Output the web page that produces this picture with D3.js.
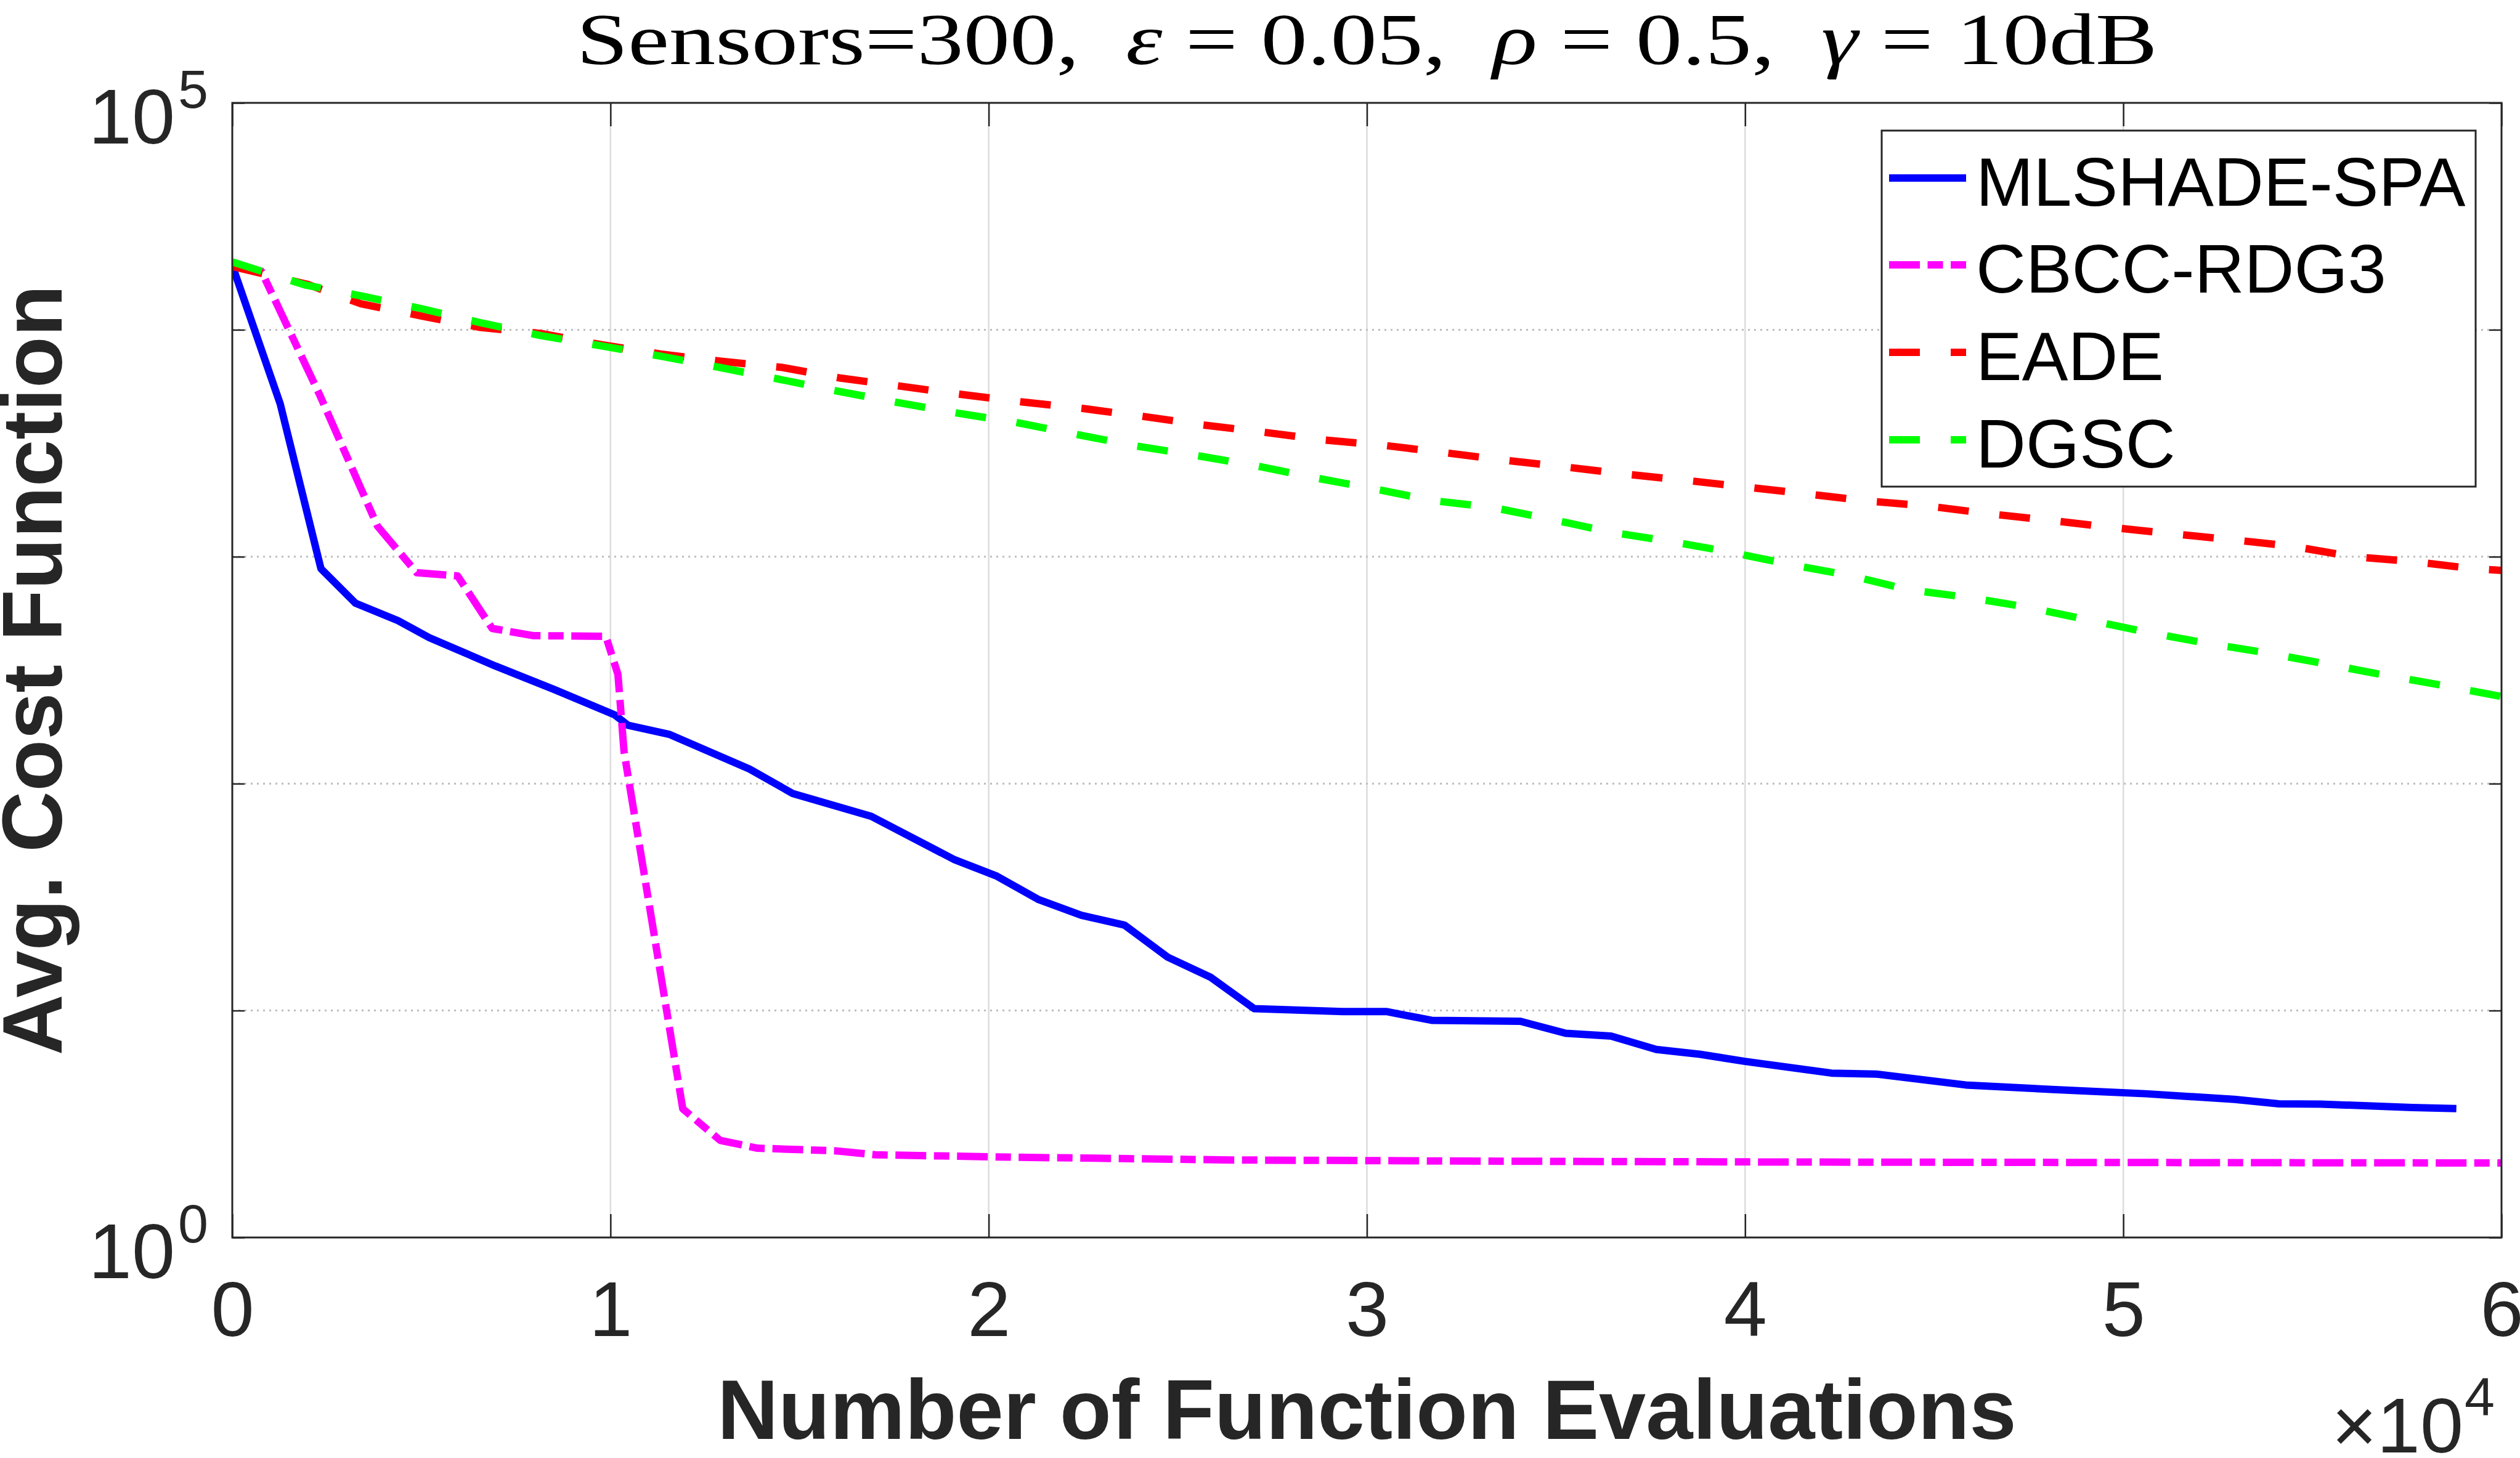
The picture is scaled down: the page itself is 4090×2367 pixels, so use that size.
<!DOCTYPE html>
<html>
<head>
<meta charset="utf-8">
<script src="https://cdn.jsdelivr.net/npm/d3@7"></script>
<style>
body{margin:0;background:#fff;}
svg{display:block;}
</style>
</head>
<body>
<div id="chart-area"></div>
<script>
const width=4090, height=2367;
const plot={left:377, right:4060, top:167, bottom:2009};

// axis ticks
const xTicks=[0,10000,20000,30000,40000,50000,60000];
const yTicks=[1,10,100,1000,10000,100000];
const yLabelTicks=[1,100000];

const seriesNames=["MLSHADE-SPA","CBCC-RDG3","EADE","DGSC"];

// MLSHADE-SPA
const mlshadeEvals=[0,1265,2344,3257,4379,5209,6954,8532,10109,10460,11548,13676,14818,16894,19075,20217,21307,22448,23591,24732,25875,27017,29364,30512,31710,34056,35254,36453,37652,38797,39997,42286,43462,45833,48218,50590,52937,54110,55222,57632,58806];
const mlshadeCost=[19200,4730,886,624,523,440,330,259,201,181,165,116,90.5,71.8,46.4,39.1,30.9,26.3,23.8,17.2,14.0,10.2,9.9,9.9,9.06,8.97,7.94,7.72,6.74,6.42,5.97,5.30,5.25,4.70,4.48,4.30,4.06,3.88,3.87,3.74,3.70];

// CBCC-RDG3
const cbccEvals=[0,767,2303,3840,4877,5958,6871,7950,9878,10197,10358,11911,12898,13884,15959,16998,20529,26426,33000,41000,50000,60000];
const cbccCost=[19200,18150,5200,1363,850,823,483,449,446,303,138.6,3.69,2.68,2.475,2.408,2.314,2.26,2.196,2.17,2.15,2.14,2.13];

// EADE
const eadeEvals=[0,1984,3401,5009,6554,8164,9772,11319,12927,14535,16080,17690,19298,20879,22476,24058,25655,27252,28848,30457,32041,33636,35247,36844,38439,40181,41636,43245,44842,46452,48060,49670,51253,52876,54484,56053,57689,59260,60000];
const eadeCost=[19000,15870,13020,11500,10245,9625,8589,7820,7265,6826,6127,5638,5184,4810,4504,4158,3810,3541,3273,3094,2876,2663,2486,2311,2170,2014,1892,1760,1672,1546,1446,1346,1265,1188,1111,1001,951,885,870];

// DGSC
const dgscEvals=[0,1919,3490,5035,6619,8164,9746,11319,12888,14472,15991,17561,19146,20724,22282,23866,25448,27032,28577,30161,31719,33316,34874,36443,38040,39611,41172,42769,44301,45885,47480,49051,50622,52193,53788,55346,56904,58501,60000];
const dgscCost=[19900,15770,14010,12360,10690,9430,8500,7660,6826,6050,5373,4793,4300,3906,3470,3081,2800,2522,2235,1998,1769,1649,1462,1282,1167,1047,925,827,716,662,599,527,465,416,377,337,301,270,242];

const lineColor=["#0000ff","#ff00ff","#ff0000","#00ff00"];
const lineDash=[null,"50,12.5,25,12.5","50,50","50,50"];
const axisColor="#262626";
const sansFont="'Liberation Sans', Arial, Helvetica, sans-serif";

const svg=d3.select("#chart-area").append("svg")
            .attr("width",width).attr("height",height);
svg.append("rect").attr("width",width).attr("height",height).attr("fill","#fff");

const x=d3.scaleLinear().domain([0,60000]).range([plot.left,plot.right]);
const y=d3.scaleLog().domain([1,1e5]).range([plot.bottom,plot.top]);

// grid
const grid=svg.append("g");
grid.selectAll(".xgrid").data(xTicks.slice(1,-1)).enter().append("line")
    .attr("x1",d=>x(d)).attr("x2",d=>x(d))
    .attr("y1",plot.top).attr("y2",plot.bottom)
    .attr("stroke","#dcdcdc").attr("stroke-width",2.5);
grid.selectAll(".ygrid").data(yTicks.slice(1,-1)).enter().append("line")
    .attr("x1",plot.left).attr("x2",plot.right)
    .attr("y1",d=>y(d)).attr("y2",d=>y(d))
    .attr("stroke","#bdbdbd").attr("stroke-width",3)
    .attr("stroke-dasharray","3,7");

// lines
svg.append("clipPath").attr("id","plotclip").append("rect")
    .attr("x",plot.left).attr("y",plot.top)
    .attr("width",plot.right-plot.left).attr("height",plot.bottom-plot.top);

const series=[
    d3.zip(mlshadeEvals,mlshadeCost),
    d3.zip(cbccEvals,cbccCost),
    d3.zip(eadeEvals,eadeCost),
    d3.zip(dgscEvals,dgscCost)
];
const line=d3.line().x(d=>x(d[0])).y(d=>y(d[1]));

svg.append("g").attr("clip-path","url(#plotclip)")
    .selectAll("path").data(series).enter().append("path")
    .attr("d",line)
    .attr("fill","none")
    .attr("stroke",(d,i)=>lineColor[i])
    .attr("stroke-width",12)
    .attr("stroke-linejoin","round")
    .attr("stroke-dasharray",(d,i)=>lineDash[i]);

// axes
function styleAxis(g){
    g.select(".domain").remove();
    g.attr("color",axisColor).attr("font-family",sansFont).attr("font-size",126);
    g.selectAll(".tick line").attr("stroke-width",2.5);
}
svg.append("g").attr("transform",`translate(0,${plot.bottom})`)
    .call(d3.axisBottom(x).tickValues(xTicks).tickSizeInner(-38).tickSizeOuter(0)
          .tickPadding(71).tickFormat(d=>d/1e4))
    .call(styleAxis);
svg.append("g").attr("transform",`translate(0,${plot.top})`)
    .call(d3.axisTop(x).tickValues(xTicks).tickSizeInner(-38).tickSizeOuter(0).tickFormat(""))
    .call(styleAxis);
svg.append("g").attr("transform",`translate(${plot.left},0)`)
    .call(d3.axisLeft(y).tickValues(yTicks).tickSizeInner(-20).tickSizeOuter(0).tickFormat(""))
    .call(styleAxis);
svg.append("g").attr("transform",`translate(${plot.right},0)`)
    .call(d3.axisRight(y).tickValues(yTicks).tickSizeInner(-20).tickSizeOuter(0).tickFormat(""))
    .call(styleAxis);

svg.append("rect")
    .attr("x",plot.left).attr("y",plot.top)
    .attr("width",plot.right-plot.left).attr("height",plot.bottom-plot.top)
    .attr("fill","none").attr("stroke",axisColor).attr("stroke-width",3);

// y tick labels 10^n
const ylab=svg.append("g").attr("fill",axisColor).attr("font-family",sansFont);
ylab.selectAll(".base").data(yLabelTicks).enter().append("text")
    .attr("x",284).attr("y",d=>y(d)+66)
    .attr("text-anchor","end").attr("font-size",126).text("10");
ylab.selectAll(".exp").data(yLabelTicks).enter().append("text")
    .attr("x",289).attr("y",d=>y(d)+8)
    .attr("font-size",88).text(d=>Math.round(Math.log10(d)));

// x multiplier
svg.append("text").attr("x",3998).attr("y",2358)
    .attr("text-anchor","end").attr("font-family",sansFont)
    .attr("font-size",126).attr("fill",axisColor).text("\u00d710");
svg.append("text").attr("x",4000).attr("y",2298)
    .attr("font-family",sansFont)
    .attr("font-size",88).attr("fill",axisColor).text("4");

// axis labels
svg.append("text").attr("x",(plot.left+plot.right)/2).attr("y",2336)
    .attr("text-anchor","middle").attr("font-family",sansFont)
    .attr("font-weight","bold").attr("font-size",137).attr("fill",axisColor)
    .text("Number of Function Evaluations");
svg.append("text")
    .attr("transform",`translate(100,${(plot.top+plot.bottom)/2}) rotate(-90)`)
    .attr("text-anchor","middle").attr("font-family",sansFont)
    .attr("font-weight","bold").attr("font-size",137).attr("fill",axisColor)
    .text("Avg. Cost Function");

// title
const title=svg.append("text")
    .attr("text-anchor","middle")
    .attr("font-family","'Liberation Serif', 'Times New Roman', serif")
    .attr("font-size",118).attr("fill","#000")
    .style("white-space","pre");
const titleParts=[["Sensors=300,  ",false],["\u03b5",true],[" = 0.05,  ",false],["\u03c1",true],
                  [" = 0.5,  ",false],["\u03b3",true],[" = 10dB",false]];
titleParts.forEach(function(p){
    title.append("tspan").attr("font-style",p[1]?"italic":"normal").text(p[0]);
});
const tw=title.node().getBBox().width;
title.attr("transform",`translate(${(plot.left+plot.right)/2},104) scale(${2566/tw},1)`);

// legend
const legend=svg.append("g");
legend.append("rect").attr("x",3054).attr("y",212).attr("width",964).attr("height",578)
    .attr("fill","#fff").attr("stroke",axisColor).attr("stroke-width",3);
const rowY=[334,475,617,759];
const item=legend.selectAll(".legend").data(seriesNames).enter().append("g").attr("class","legend");
item.append("line")
    .attr("x1",3066).attr("x2",3191)
    .attr("y1",(d,i)=>rowY[i]-45).attr("y2",(d,i)=>rowY[i]-45)
    .attr("stroke",(d,i)=>lineColor[i]).attr("stroke-width",12)
    .attr("stroke-dasharray",(d,i)=>lineDash[i]);
item.append("text").attr("x",3207).attr("y",(d,i)=>rowY[i])
    .attr("font-family",sansFont).attr("font-size",112).attr("fill","#000")
    .text(d=>d);
</script>
</body>
</html>
